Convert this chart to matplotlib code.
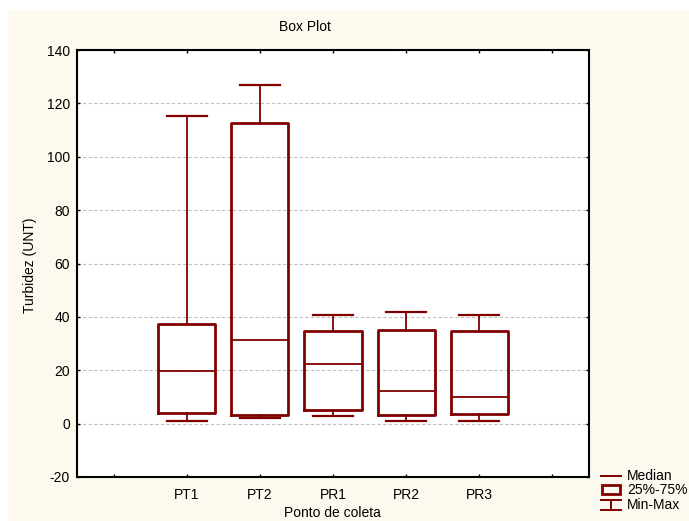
import numpy as np
import matplotlib.pyplot as plt
from matplotlib.patches import Rectangle
from matplotlib.lines import Line2D

# data
categories = ['PT1', 'PT2', 'PR1', 'PR2', 'PR3']
mins = [1.0, 2.0, 3.0, 1.0, 1.0]
q1 = [4.0, 3.2, 5.0, 3.4, 3.5]
medians = [19.8, 31.5, 22.5, 12.4, 10.0]
q3 = [37.2, 112.8, 34.6, 35.2, 34.8]
maxs = [115.3, 126.7, 40.6, 41.7, 40.8]

red = '#800000'
cream = '#fdf9ee'
plt.rcParams['font.family'] = ['Liberation Sans', 'DejaVu Sans']
plt.rcParams['font.size'] = 10
plt.rcParams['axes.unicode_minus'] = False

W, H = 689, 521
fig = plt.figure(figsize=(W/100, H/100), dpi=100, facecolor='white')
fig.patches.append(Rectangle((8/W, 0), 1, 1 - 10/H, transform=fig.transFigure,
                             facecolor=cream, edgecolor='none', zorder=-10))

ax = fig.add_axes([77/W, 1 - 477/H, (589-77)/W, (477-50)/H])
ax.set_facecolor('white')

stats = []
for i in range(len(categories)):
    stats.append(dict(med=medians[i], q1=q1[i], q3=q3[i],
                      whislo=mins[i], whishi=maxs[i], fliers=[]))
positions = np.arange(1, len(categories) + 1)
ax.bxp(stats, positions=positions, widths=0.78, showfliers=False,
       boxprops=dict(color=red, linewidth=2.0),
       medianprops=dict(color=red, linewidth=1.3),
       whiskerprops=dict(color=red, linewidth=1.3),
       capprops=dict(color=red, linewidth=1.6),
       capwidths=0.55, zorder=3)

ax.set_xlim(-0.5, 6.5)
ax.set_ylim(-20, 140)
ax.set_yticks(np.arange(-20, 141, 20))
ax.set_xticks(np.arange(0, 7))
ax.set_xticklabels([''] + categories + [''])
ax.yaxis.grid(True, linestyle=(0, (3, 2)), color='#c0c0c0', linewidth=0.8)
ax.set_axisbelow(True)
ax.tick_params(direction='in', length=2, width=1, top=True, right=True,
               labelsize=10, pad=5)
ax.tick_params(axis='x', pad=8)
for s in ax.spines.values():
    s.set_linewidth(1.5)

fig.text(305/W, 1 - 27/H, 'Box Plot', ha='center', va='center', fontsize=10)
fig.text(332/W, 1 - 513/H, 'Ponto de coleta', ha='center', va='center', fontsize=10)
fig.text(30/W, 1 - 265/H, 'Turbidez (UNT)', ha='center', va='center',
         rotation=90, fontsize=10)

# legend drawn by hand in pixel positions
def px(x, y):
    return x / W, 1 - y / H

lx0, lx1 = 601, 621
fig.add_artist(Line2D(*zip(px(lx0, 476), px(lx1, 476)), color=red, lw=1.4))
fig.add_artist(Rectangle(px(lx0 + 1, 494), 18/W, 9/H, transform=fig.transFigure,
                         fill=False, edgecolor=red, lw=2.0))
fig.add_artist(Line2D(*zip(px(lx0, 499.5), px(lx1, 499.5)), color=red, lw=1.4))
fig.add_artist(Line2D(*zip(px(lx0, 510), px(lx1, 510)), color=red, lw=1.4))
fig.add_artist(Line2D(*zip(px(611, 499.5), px(611, 510)), color=red, lw=1.4))
for y, t in zip([476, 490, 505], ['Median', '25%-75%', 'Min-Max']):
    fig.text(*px(627, y), t, ha='left', va='center', fontsize=10)

fig.savefig('out.png', dpi=100, facecolor=fig.get_facecolor())
